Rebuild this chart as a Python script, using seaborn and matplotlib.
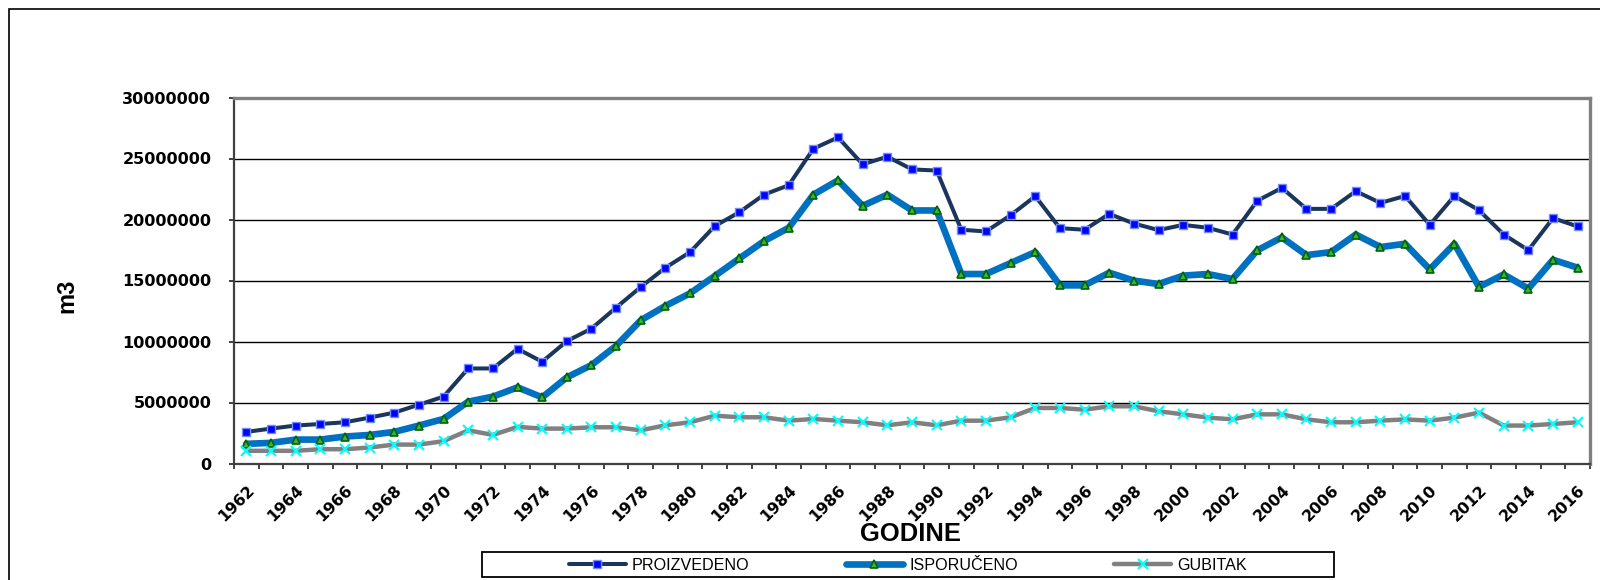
import numpy as np
import pandas as pd
import matplotlib
matplotlib.use("Agg")
import matplotlib.pyplot as plt
from matplotlib import font_manager
from matplotlib.patches import Rectangle
from matplotlib.ticker import FuncFormatter
import seaborn as sns

# ---------------- data (m3) ----------------
years = list(range(1962, 2017))
proizvedeno = [2590000, 2860000, 3110000, 3240000, 3380000, 3760000, 4170000, 4820000, 5480000,
               7790000, 7790000, 9400000, 8340000, 10030000, 11060000, 12780000, 14470000, 16050000, 17330000,
               19460000, 20600000, 22040000, 22810000, 25800000, 26730000, 24520000, 25150000, 24110000, 24010000,
               19160000, 19020000, 20350000, 21910000, 19290000, 19160000, 20460000, 19670000, 19130000, 19560000,
               19320000, 18770000, 21530000, 22590000, 20870000, 20870000, 22320000, 21360000, 21930000, 19560000,
               21930000, 20760000, 18770000, 17490000, 20110000, 19430000]
isporuceno = [1610000, 1690000, 1960000, 1960000, 2210000, 2340000, 2590000, 3110000, 3650000,
              5070000, 5480000, 6240000, 5420000, 7060000, 8070000, 9650000, 11740000, 12920000, 13950000,
              15370000, 16810000, 18230000, 19320000, 22040000, 23210000, 21120000, 22040000, 20740000, 20740000,
              15530000, 15530000, 16430000, 17330000, 14600000, 14600000, 15640000, 14990000, 14710000, 15400000,
              15530000, 15120000, 17470000, 18530000, 17080000, 17330000, 18770000, 17740000, 18010000, 15910000,
              18010000, 14470000, 15500000, 14330000, 16700000, 16050000]
gubitak = [1040000, 1040000, 1040000, 1170000, 1170000, 1310000, 1550000, 1550000, 1830000,
           2720000, 2340000, 3000000, 2860000, 2860000, 2970000, 2970000, 2720000, 3130000, 3380000,
           3920000, 3790000, 3790000, 3510000, 3650000, 3510000, 3380000, 3130000, 3380000, 3130000,
           3510000, 3510000, 3790000, 4550000, 4550000, 4410000, 4690000, 4690000, 4280000, 4030000,
           3760000, 3620000, 4030000, 4030000, 3620000, 3380000, 3380000, 3510000, 3620000, 3510000,
           3760000, 4170000, 3110000, 3110000, 3240000, 3380000]
series_names = ["PROIZVEDENO", "ISPORUČENO", "GUBITAK"]
y_ticks = [0, 5000000, 10000000, 15000000, 20000000, 25000000, 30000000]
x_label = "GODINE"
y_label = "m3"

df = pd.DataFrame({"pos": np.arange(len(years)), "godina": years,
                   series_names[0]: proizvedeno, series_names[1]: isporuceno,
                   series_names[2]: gubitak})

# ---------------- style ----------------
sns.set_style("white")
avail = {f.name for f in font_manager.fontManager.ttflist}
arial = "Liberation Sans" if "Liberation Sans" in avail else "DejaVu Sans"
plt.rcParams["font.family"] = ["DejaVu Sans"]
plt.rcParams["text.color"] = "black"
plt.rcParams["xtick.color"] = "black"
plt.rcParams["ytick.color"] = "black"
plt.rcParams["xtick.labelcolor"] = "black"
plt.rcParams["ytick.labelcolor"] = "black"

W, H = 1600, 580
fig = plt.figure(figsize=(16, 5.8), dpi=100)
ax = fig.add_axes([234 / W, 1 - 463.5 / H, (1590 - 234) / W, (463.5 - 97.5) / H])

styles = [
    dict(color="#1B365D", lw=2.9, marker="s", markersize=5.2, markerfacecolor="#0000FF",
         markeredgecolor="#6F8FFF", markeredgewidth=1.0),
    dict(color="#0070C0", lw=4.8, marker="^", markersize=5.8, markerfacecolor="#3FAF3F",
         markeredgecolor="#006400", markeredgewidth=1.2),
    dict(color="#808080", lw=3.2, marker="x", markersize=6.5, markeredgecolor="#00FFFF",
         markeredgewidth=1.6),
]
for name, st in zip(series_names, styles):
    sns.lineplot(data=df, x="pos", y=name, ax=ax, label=name, zorder=3, **st)

ax.set_xlim(-0.5, len(years) - 0.5)
ax.set_ylim(y_ticks[0], y_ticks[-1])
ax.set_xlabel("")
ax.set_ylabel("")

# grid
ax.set_yticks(y_ticks)
ax.yaxis.set_major_formatter(FuncFormatter(lambda v, p: f"{int(v)}"))
ax.grid(axis="y", color="black", lw=1.0)
ax.grid(axis="x", visible=False)
ax.set_axisbelow(True)

# x ticks: marks at boundaries, labels for every other year
ax.set_xticks(np.arange(-0.5, len(years), 1.0))
ax.set_xticklabels([])
ax.set_xticks(np.arange(0, len(years), 2), minor=True)
ax.set_xticklabels([str(y) for y in years[::2]], minor=True, rotation=45,
                   ha="right", va="top", rotation_mode="anchor",
                   fontsize=11.3, fontweight="bold", color="black")
ax.tick_params(axis="x", which="major", direction="out", length=3.8, width=1.2,
               color="#202020", bottom=True)
ax.tick_params(axis="x", which="minor", length=0, pad=13.5, bottom=True)
ax.tick_params(axis="y", which="major", direction="out", length=3.8, width=1.2,
               color="#202020", left=True, pad=12.5, labelsize=11.6, labelcolor="black")
for lab in ax.get_yticklabels():
    lab.set_fontweight("bold")

for side in ["top", "right"]:
    ax.spines[side].set_color("#808080")
    ax.spines[side].set_linewidth(2.4)
for side in ["left", "bottom"]:
    ax.spines[side].set_color("#404040")
    ax.spines[side].set_linewidth(1.6)

# axis titles
fig.text(67 / W, 1 - 296 / H, y_label, rotation=90, ha="center", va="center",
         fontsize=17, fontweight="bold", color="black", family=[arial, "DejaVu Sans"])
fig.text(910 / W, 1 - 534 / H, x_label, ha="center", va="center",
         fontsize=18.4, fontweight="bold", color="black", family=[arial, "DejaVu Sans"])

# legend
handles, labels = ax.get_legend_handles_labels()
ax.get_legend().remove()
leg = fig.legend(handles, labels, loc="center", bbox_to_anchor=(908 / W, 1 - 565 / H),
                 ncol=3, frameon=False, handlelength=3.5, handletextpad=0.4,
                 columnspacing=6.0, borderaxespad=0, borderpad=0,
                 prop={"family": [arial, "DejaVu Sans"], "size": 11.6})
for t in leg.get_texts():
    t.set_color("black")
fig.add_artist(Rectangle((481.7 / W, 1 - 577.3 / H), (1334 - 481.7) / W, (577.3 - 551.7) / H,
                         transform=fig.transFigure, fill=False, ec="black", lw=1.3))

# outer chart border (extends past right and bottom edges)
fig.add_artist(Rectangle((8.7 / W, -0.1), 1.2, 1.1 - 9.3 / H,
                         transform=fig.transFigure, fill=False, ec="black", lw=1.2))

fig.savefig("out.png", dpi=100, facecolor="white")
